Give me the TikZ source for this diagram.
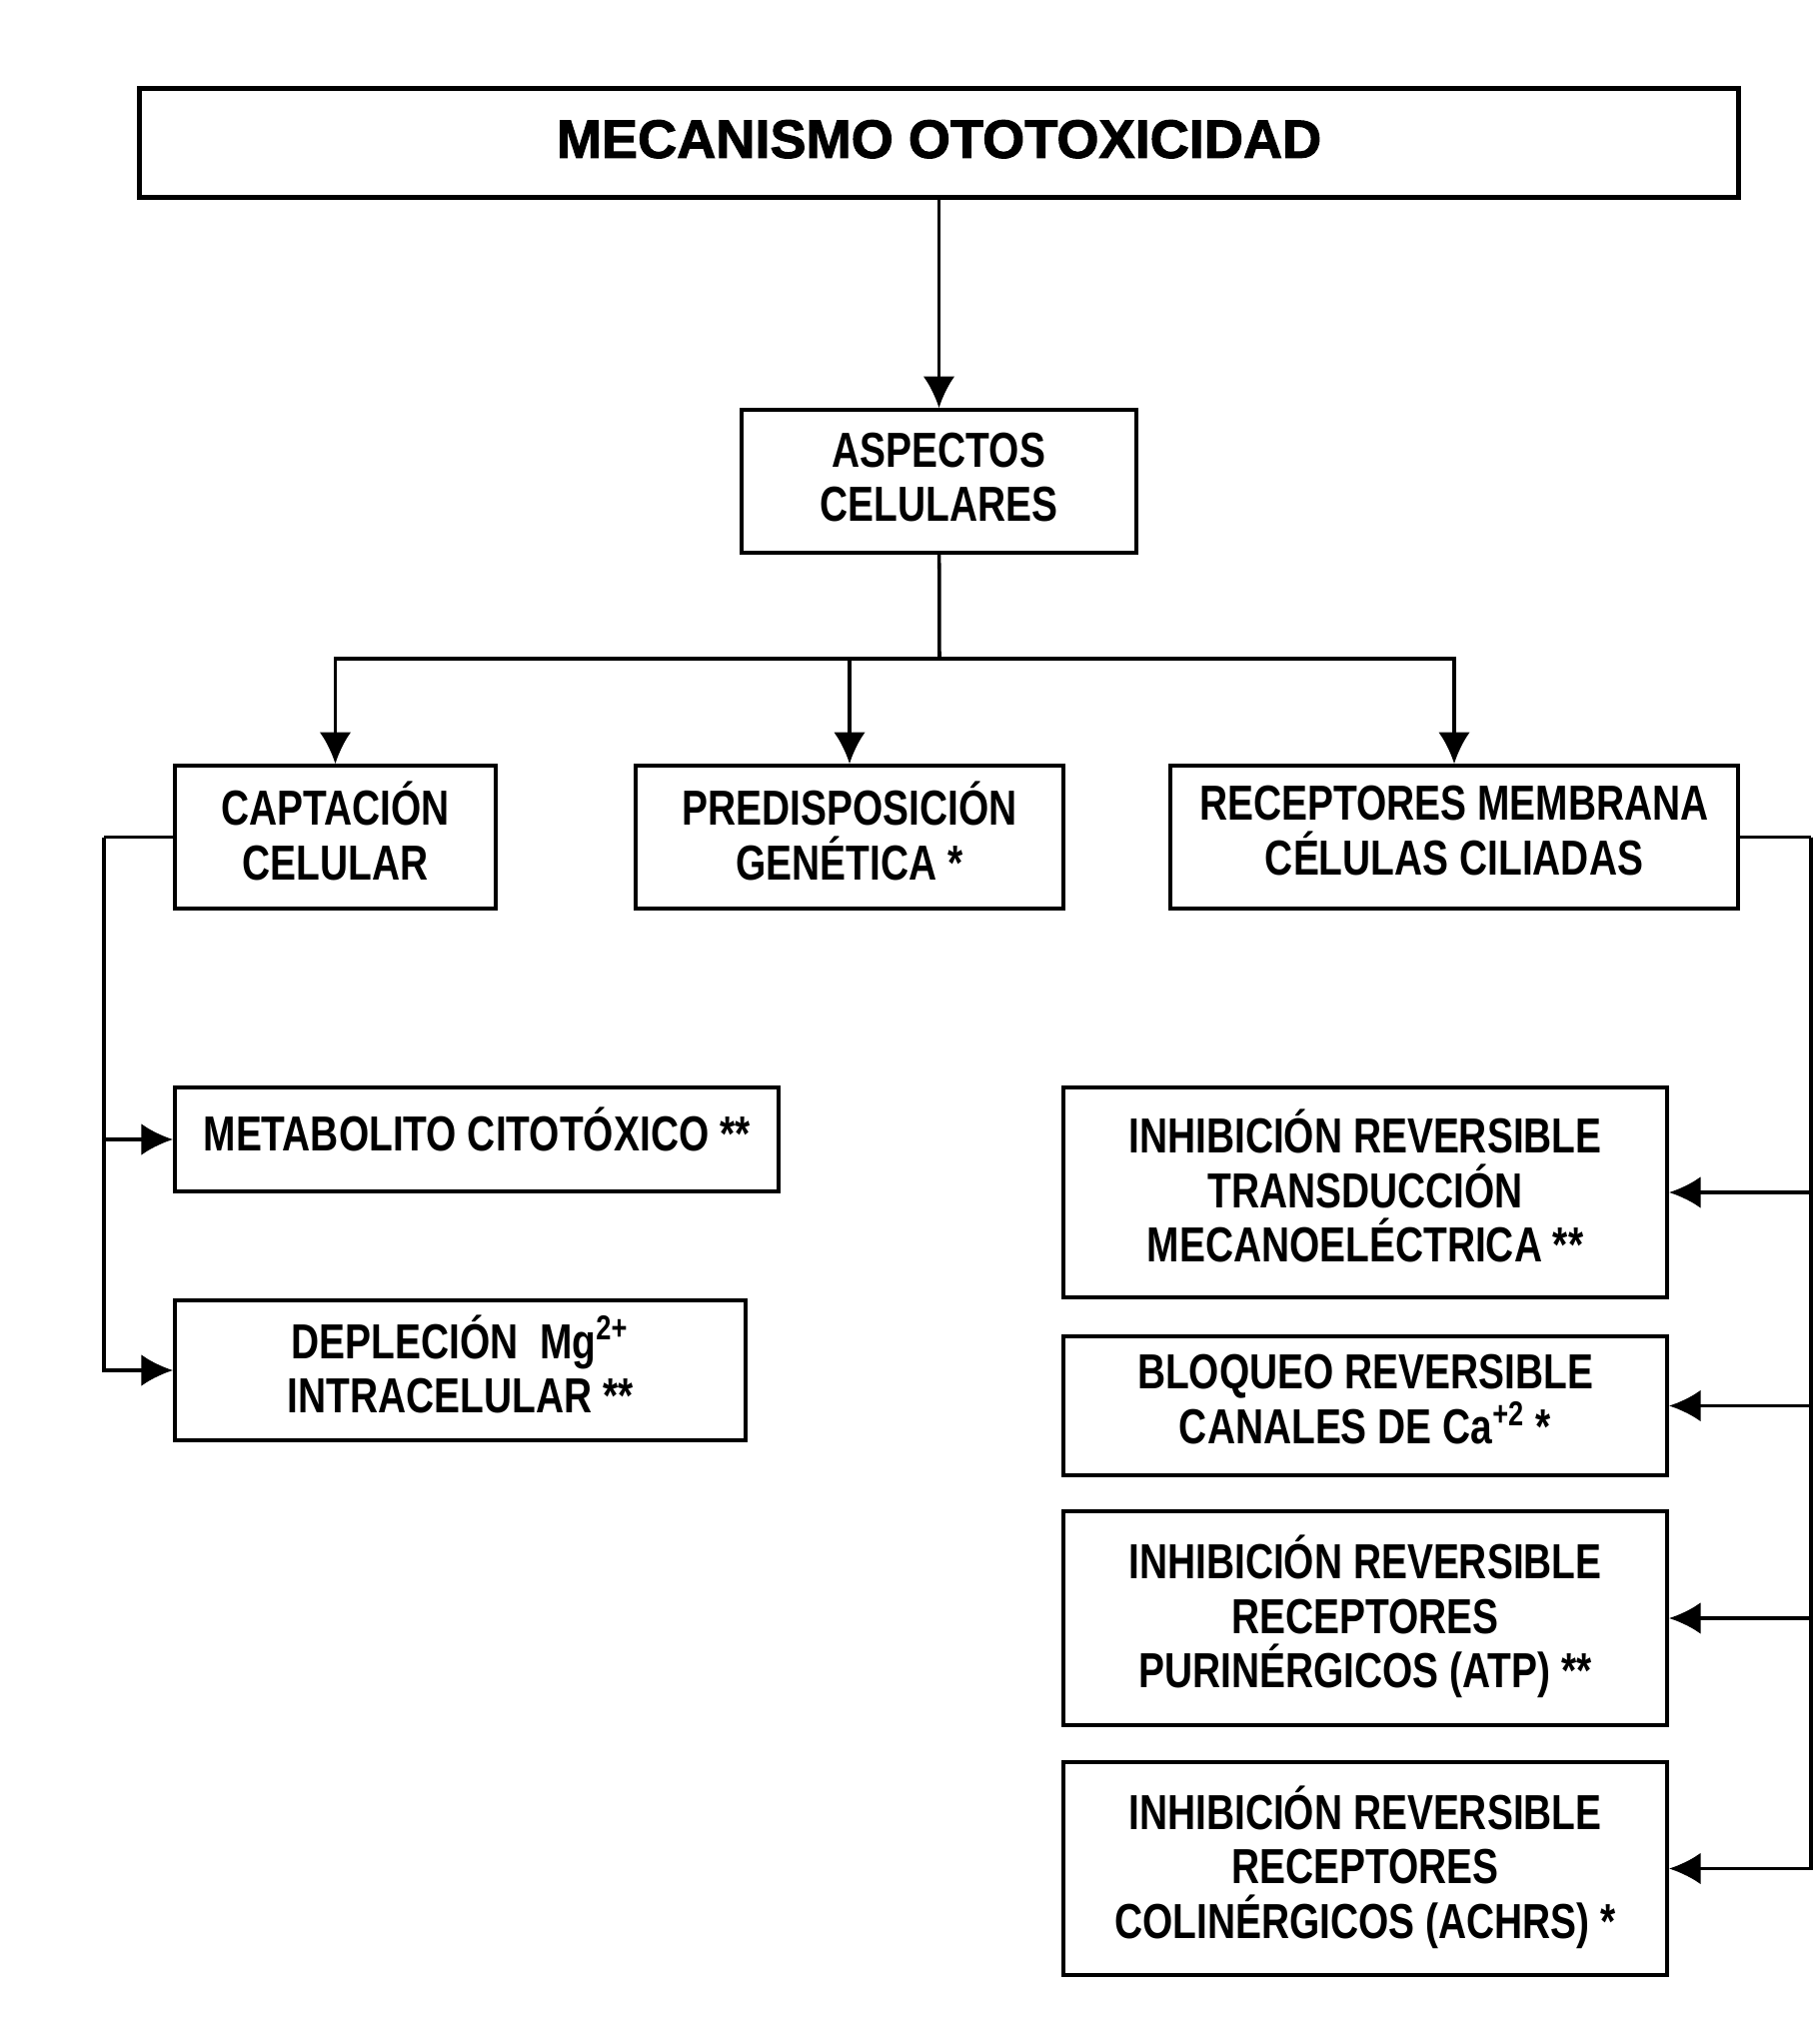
\documentclass[tikz,border=0pt]{standalone}
\usepackage{fontspec}
\setmainfont{Liberation Sans}
\newfontfamily\narrowfont[FakeStretch=0.79]{Liberation Sans Bold}
\newfontfamily\heavyfont[FakeBold=1.8]{Liberation Sans Bold}
\usepackage{tikz}
\usetikzlibrary{arrows.meta, calc}
\tikzstyle{title} = [rectangle, minimum width=15.99cm, minimum height=1.09cm, text centered, text depth=0.08cm, draw=black, line width=1.2pt, font=\heavyfont\fontsize{15.4}{16}\selectfont]
\tikzstyle{process} = [rectangle, align=center, inner sep=2pt, text depth=0.13cm, draw=black, line width=1pt, font=\narrowfont\fontsize{14}{15.5}\selectfont]
\tikzstyle{arrow} = [line width=1pt, -{Latex[length=9pt, width=9pt]}]
\tikzstyle{line} = [line width=1pt]

\begin{document}
\begin{tikzpicture}[x=0.01cm, y=-0.01cm]
			\useasboundingbox (0,0) rectangle (1820,2036);
			\node(meca)[title] at (939.5,143) {MECANISMO OTOTOXICIDAD};
			\node(aspectos)[process, minimum width=3.95cm, minimum height=1.43cm, text depth=0.08cm] at (939.5,481.5) {ASPECTOS\\CELULARES};
			\node(captacion)[process, minimum width=3.21cm, minimum height=1.43cm] at (335.5,837.5) {CAPTACIÓN\\CELULAR};
			\node(predisp)[process, minimum width=4.28cm, minimum height=1.43cm] at (850,837.5) {PREDISPOSICIÓN\\GENÉTICA *};
			\node(receptores)[process, minimum width=5.68cm, minimum height=1.43cm] at (1455,837.5) {RECEPTORES MEMBRANA\\CÉLULAS CILIADAS};
			\node(metabolito)[process, minimum width=6.04cm, minimum height=1.04cm, text depth=0.2cm] at (477,1140) {METABOLITO CITOTÓXICO **};
			\node(deplecion)[process, minimum width=5.71cm, minimum height=1.40cm] at (460.5,1371) {DEPLECIÓN~~Mg\textsuperscript{2+}\\INTRACELULAR **};
			\node(transduccion)[process, minimum width=6.04cm, minimum height=2.10cm] at (1366,1193) {INHIBICIÓN REVERSIBLE\\TRANSDUCCIÓN\\MECANOELÉCTRICA **};
			\node(bloqueo)[process, minimum width=6.04cm, minimum height=1.39cm] at (1366,1406.5) {BLOQUEO REVERSIBLE\\CANALES DE Ca\textsuperscript{+2} *};
			\node(purinergicos)[process, minimum width=6.04cm, minimum height=2.14cm] at (1366,1619) {INHIBICIÓN REVERSIBLE\\RECEPTORES\\PURINÉRGICOS (ATP) **};
			\node(colinergicos)[process, minimum width=6.04cm, minimum height=2.13cm] at (1366,1869.5) {INHIBICIÓN REVERSIBLE\\RECEPTORES\\COLINÉRGICOS (ACHRS) *};
			% buses
			\coordinate (split) at (940,659);
			\coordinate (lbus) at (104,837.5);
			\coordinate (rbus) at (1812,837.5);
			\draw [arrow] (meca) -- (aspectos);
			\draw [line] (aspectos) -- (split);
			\draw [arrow] (split) -| (captacion);
			\draw [arrow] (split) -| (predisp);
			\draw [arrow] (split) -| (receptores);
			\draw [line] (captacion) -- (lbus);
			\draw [arrow] (lbus) |- (metabolito);
			\draw [arrow] (lbus) |- (deplecion);
			\draw [line] (receptores) -- (rbus);
			\draw [arrow] (rbus) |- (transduccion);
			\draw [arrow] (rbus) |- (bloqueo);
			\draw [arrow] (rbus) |- (purinergicos);
			\draw [arrow] (rbus) |- (colinergicos);
		\end{tikzpicture}
\end{document}
